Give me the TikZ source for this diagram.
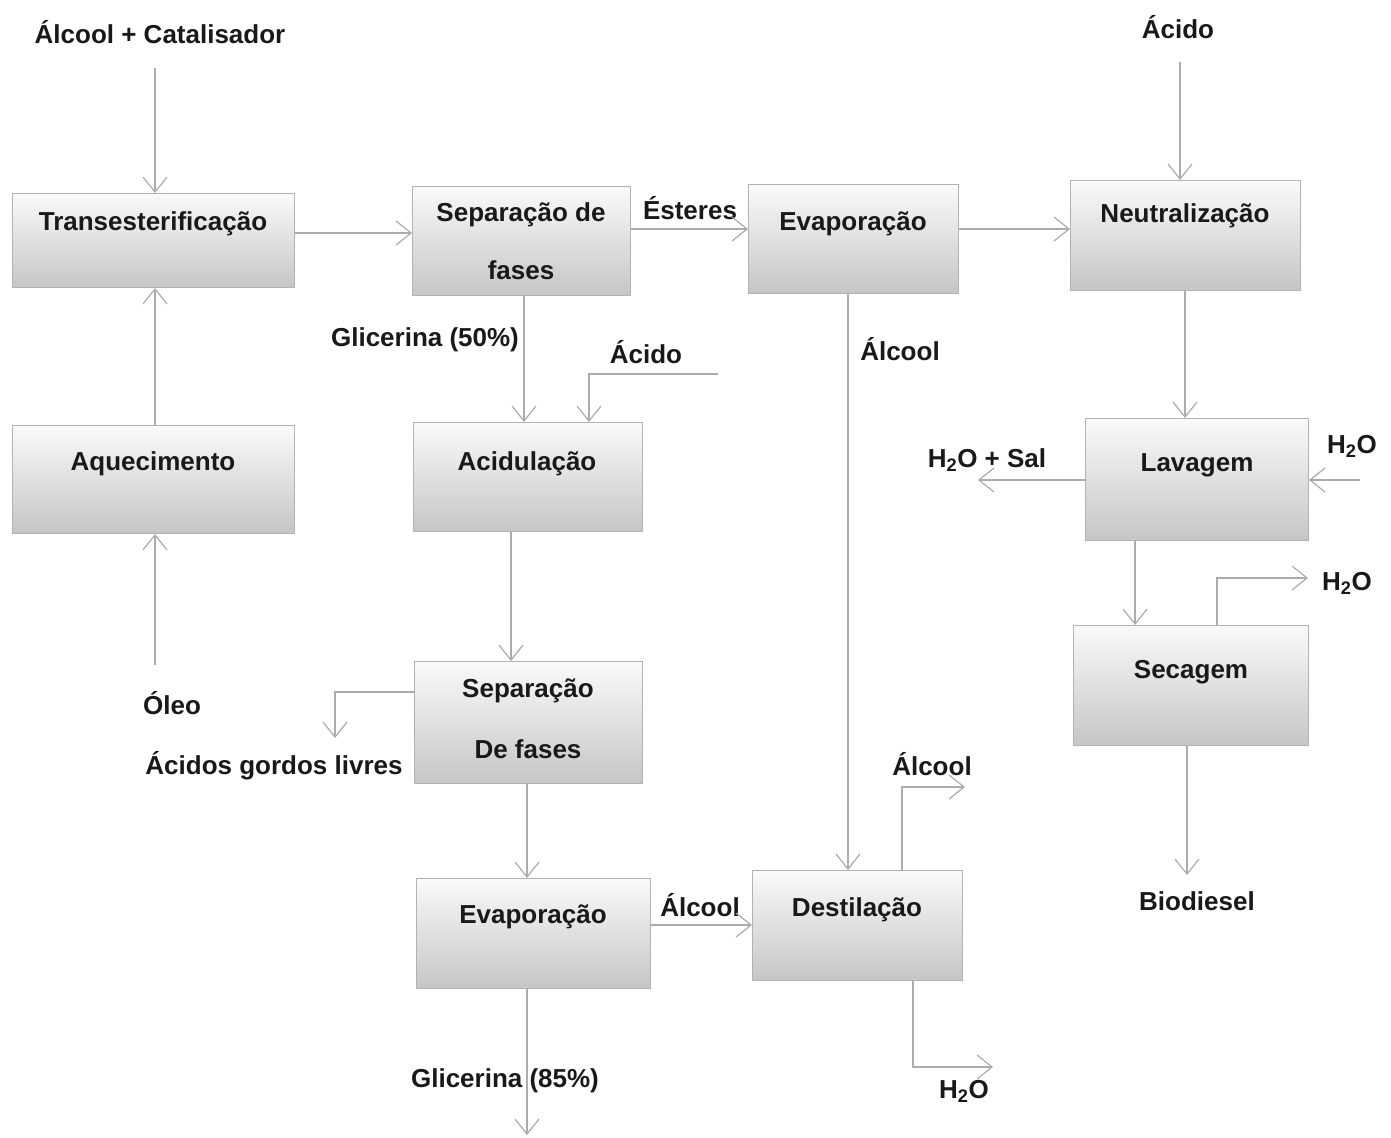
\documentclass[tikz,border=0pt]{standalone}
\usepackage{fontspec}
\setmainfont{Liberation Sans}
\usetikzlibrary{arrows.meta}
\begin{document}
\begin{tikzpicture}[x=1pt,y=-1pt,
 box/.style={draw=gray!60, line width=1pt, top color=gray!4, bottom color=gray!45, inner sep=0pt, anchor=north west},
 lbl/.style={font=\fontsize{26}{30}\selectfont\bfseries, text=black!90, inner sep=1pt},
 lbltwo/.style={lbl, align=center},
 arr/.style={draw=gray!65, line width=1.2pt, -{Straight Barb[length=15pt,width=24pt]}}]
\useasboundingbox[fill=white] (0,0) rectangle (1391,1137);

% boxes
\node[box, minimum width=282pt, minimum height=94pt]  (trans) at (12,193) {};
\node[box, minimum width=218pt, minimum height=109pt] (sep1)  at (412,186) {};
\node[box, minimum width=210pt, minimum height=109pt] (evap1) at (748,184) {};
\node[box, minimum width=230pt, minimum height=110pt] (neut)  at (1070,180) {};
\node[box, minimum width=282pt, minimum height=108pt] (aquec) at (12,425) {};
\node[box, minimum width=229pt, minimum height=109pt] (acid)  at (413,422) {};
\node[box, minimum width=223pt, minimum height=122pt] (lav)   at (1085,418) {};
\node[box, minimum width=228pt, minimum height=122pt] (sep2)  at (414,661) {};
\node[box, minimum width=235pt, minimum height=120pt] (sec)   at (1073,625) {};
\node[box, minimum width=234pt, minimum height=110pt] (evap2) at (416,878) {};
\node[box, minimum width=210pt, minimum height=110pt] (dest)  at (752,870) {};

% box texts
\node[lbl] (transT) at (153,224) {Transesterificação};
\node[lbl, align=center, font=\fontsize{26}{58}\selectfont\bfseries] (sep1T) at (521,241) {Separação de\\fases};
\node[lbl] (evap1T) at (853,224) {Evaporação};
\node[lbl] (neutT) at (1185,216) {Neutralização};
\node[lbl] (aquecT) at (153,464) {Aquecimento};
\node[lbl] (acidT) at (527,464) {Acidulação};
\node[lbl] (lavT) at (1197,465) {Lavagem};
\node[lbl, align=center, font=\fontsize{26}{61}\selectfont\bfseries] (sep2T) at (528,719) {Separação\\De fases};
\node[lbl] (secT) at (1191,672) {Secagem};
\node[lbl] (evap2T) at (533,917) {Evaporação};
\node[lbl] (destT) at (857,910) {Destilação};

% free labels
\node[lbl] (l1) at (160,32) {Álcool + Catalisador};
\node[lbl] (l2) at (1178,27) {Ácido};
\node[lbl] (l3) at (690,208) {Ésteres};
\node[lbl] (l4) at (425,340) {Glicerina (50\%)};
\node[lbl] (l5) at (646,352) {Ácido};
\node[lbl] (l6) at (900,349) {Álcool};
\node[lbl] (l7) at (987,460) {H\textsubscript{2}O + Sal};
\node[lbl] (l8) at (1352,446) {H\textsubscript{2}O};
\node[lbl] (l9) at (1347,583) {H\textsubscript{2}O};
\node[lbl] (l10) at (172,703) {Óleo};
\node[lbl] (l11) at (274,766) {Ácidos gordos livres};
\node[lbl] (l12) at (932,764) {Álcool};
\node[lbl] (l13) at (700,905) {Álcool};
\node[lbl] (l14) at (1197,901) {Biodiesel};
\node[lbl] (l15) at (505,1081) {Glicerina (85\%)};
\node[lbl] (l16) at (964,1091) {H\textsubscript{2}O};

% free ends
\coordinate (cAlcIn) at (155,68);
\coordinate (cAcidIn) at (1180,62);
\coordinate (cOleo) at (155,665);
\coordinate (cAcid2) at (718,374);
\coordinate (cAGL) at (335,738);
\coordinate (cGlic) at (527,1135);
\coordinate (cAlcOut) at (965,787);
\coordinate (cH2Oout) at (993,1067);
\coordinate (cSal) at (978,480);
\coordinate (cH2Oin) at (1360,480);
\coordinate (cH2Osec) at (1308,578);
\coordinate (cBio) at (1187,875);

% connectors
\draw[arr] (cAlcIn) -- (trans.north -| cAlcIn);
\draw[arr] (trans.east |- 0,233) -- (sep1.west |- 0,233);
\draw[arr] (sep1.east |- 0,229) -- (evap1.west |- 0,229);
\draw[arr] (evap1.east |- 0,229) -- (neut.west |- 0,229);
\draw[arr] (cAcidIn) -- (neut.north -| cAcidIn);
\draw[arr] (aquec.north -| 155,0) -- (trans.south -| 155,0);
\draw[arr] (cOleo) -- (aquec.south -| cOleo);
\draw[arr] (sep1.south -| 524,0) -- (acid.north -| 524,0);
\draw[arr] (cAcid2) -| (acid.north -| 589,0);
\draw[arr] (acid.south -| 511,0) -- (sep2.north -| 511,0);
\draw[arr] (sep2.west |- 0,692) -| (cAGL);
\draw[arr] (sep2.south -| 527,0) -- (evap2.north -| 527,0);
\draw[arr] (evap2.east |- 0,925) -- (dest.west |- 0,925);
\draw[arr] (evap2.south -| cGlic) -- (cGlic);
\draw[arr] (evap1.south -| 848,0) -- (dest.north -| 848,0);
\draw[arr] (dest.north -| 902,0) |- (cAlcOut);
\draw[arr] (dest.south -| 913,0) |- (cH2Oout);
\draw[arr] (neut.south -| 1185,0) -- (lav.north -| 1185,0);
\draw[arr] (lav.west |- cSal) -- (cSal);
\draw[arr] (cH2Oin) -- (lav.east |- cH2Oin);
\draw[arr] (lav.south -| 1135,0) -- (sec.north -| 1135,0);
\draw[arr] (sec.north -| 1217,0) |- (cH2Osec);
\draw[arr] (sec.south -| cBio) -- (cBio);
\end{tikzpicture}
\end{document}
